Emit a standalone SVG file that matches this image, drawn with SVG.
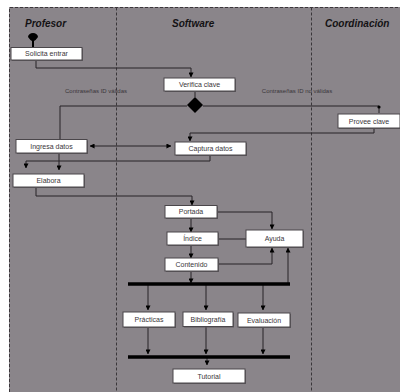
<svg xmlns="http://www.w3.org/2000/svg" width="400" height="392" viewBox="0 0 400 392">
  <style>
    .lane { fill: none; stroke: #3a363a; stroke-width: 1; stroke-dasharray: 3 2; }
    .hdr { font-family: "Liberation Sans", Arial, sans-serif; font-size: 10px; font-weight: bold; font-style: italic; fill: #141214; }
    .box rect { fill: #ffffff; stroke: #4a464a; stroke-width: 1; }
    .box .sh { fill: #5e5a5e; stroke: none; }
    .box text { font-family: "Liberation Sans", Arial, sans-serif; font-size: 7px; fill: #3a363a; text-anchor: middle; }
    .lbl { font-family: "Liberation Sans", Arial, sans-serif; font-size: 6px; fill: #3a363a; text-anchor: middle; }
    .conn path { fill: none; stroke: #262226; stroke-width: 1; }
    .bar { stroke: #000; stroke-width: 3.5; }
  </style>
  <defs>
    <marker id="arr" viewBox="0 0 6 6" refX="5.5" refY="3" markerWidth="5" markerHeight="5" orient="auto-start-reverse" markerUnits="userSpaceOnUse">
      <path d="M0,0 L6,3 L0,6 Z" fill="#000"/>
    </marker>
  </defs>

  <!-- page -->
  <rect x="0" y="0" width="400" height="392" fill="#ffffff"/>
  <rect x="9" y="7" width="391" height="385" fill="#8a858a"/>

  <!-- swimlane borders -->
  <path class="lane" d="M9.5,392 V7.5 H400"/>
  <path class="lane" d="M116.5,7.5 V392"/>
  <path class="lane" d="M311.5,7.5 V392"/>

  <!-- lane headers -->
  <text class="hdr" x="25" y="27">Profesor</text>
  <text class="hdr" x="172" y="27">Software</text>
  <text class="hdr" x="325" y="27">Coordinación</text>

  <!-- connectors -->
  <g class="conn" id="connectors">
    <path d="M36,60 V68 H191 V77" marker-end="url(#arr)"/>
    <path d="M195,91 V97"/>
    <path d="M187,106 H60 V139"/>
    <path d="M203,106 H379 V113"/>
    <path d="M374,128 V133 H190 V141" marker-end="url(#arr)"/>
    <path d="M90,146 H171" marker-start="url(#arr)" marker-end="url(#arr)"/>
    <path d="M59,153 V170" marker-end="url(#arr)"/>
    <path d="M210,155 V161 H26 V168" marker-end="url(#arr)"/>
    <path d="M36,187 V196 H192 V205" marker-end="url(#arr)"/>
    <path d="M191,218 V232" marker-end="url(#arr)"/>
    <path d="M191,245 V258" marker-end="url(#arr)"/>
    <path d="M191,271 V283" marker-end="url(#arr)"/>
    <path d="M218,212 H272 V229" marker-end="url(#arr)"/>
    <path d="M218,239 H246"/>
    <path d="M218,264 H272 V248" marker-end="url(#arr)"/>
    <path d="M288,284 V248" marker-end="url(#arr)"/>
    <path d="M148,284 V310" marker-end="url(#arr)"/>
    <path d="M206,284 V310" marker-end="url(#arr)"/>
    <path d="M263,284 V310" marker-end="url(#arr)"/>
    <path d="M148,327 V354" marker-end="url(#arr)"/>
    <path d="M206,327 V354" marker-end="url(#arr)"/>
    <path d="M263,327 V354" marker-end="url(#arr)"/>
    <path d="M207,357 V365" marker-end="url(#arr)"/>
    <circle cx="379" cy="107" r="1.6" fill="#000"/>
    <line class="bar" x1="128" y1="284" x2="290" y2="284"/>
    <line class="bar" x1="128" y1="357" x2="290" y2="357"/>
    <text class="lbl" x="96" y="93">Contraseñas ID válidas</text>
    <text class="lbl" x="297" y="93">Contraseñas ID no válidas</text>
  </g>

  <!-- start node -->
  <g id="start">
    <path d="M28,37 A5,4 0 0 1 38,37 Q36,40 34,41 V47 H32 V41 Q30,40 28,37 Z" fill="#000"/>
  </g>

  <!-- decision -->
  <g id="decision">
    <path d="M195,97 L203,105 L195,113 L187,105 Z" fill="#000"/>
  </g>

  <g class="box" id="solicita"><rect class="sh" x="12" y="48.5" width="71" height="12.5"/><rect x="11" y="47.5" width="71" height="12.5"/><text x="46.5" y="56.3">Solicita entrar</text></g>
  <g class="box" id="verifica"><rect class="sh" x="165" y="79" width="71" height="13"/><rect x="164" y="78" width="71" height="13"/><text x="199.5" y="87.3">Verifica clave</text></g>
  <g class="box" id="provee"><rect class="sh" x="339" y="115" width="62" height="14"/><rect x="338" y="114" width="62" height="14"/><text x="369" y="123.8">Provee clave</text></g>
  <g class="box" id="ingresa"><rect class="sh" x="17" y="140.5" width="71" height="13.5"/><rect x="16" y="139.5" width="71" height="13.5"/><text x="51.5" y="148.8">Ingresa datos</text></g>
  <g class="box" id="captura"><rect class="sh" x="176" y="143" width="71" height="13"/><rect x="175" y="142" width="71" height="13"/><text x="210.5" y="151.3">Captura datos</text></g>
  <g class="box" id="elabora"><rect class="sh" x="14" y="175" width="71" height="13"/><rect x="13" y="174" width="71" height="13"/><text x="48.5" y="183.3">Elabora</text></g>
  <g class="box" id="portada"><rect class="sh" x="166" y="206.5" width="52" height="12.5"/><rect x="165" y="205.5" width="52" height="12.5"/><text x="191" y="214.3">Portada</text></g>
  <g class="box" id="indice"><rect class="sh" x="168" y="233" width="51" height="13"/><rect x="167" y="232" width="51" height="13"/><text x="192.5" y="241.3">Índice</text></g>
  <g class="box" id="contenido"><rect class="sh" x="166" y="259" width="53" height="13"/><rect x="165" y="258" width="53" height="13"/><text x="191.5" y="267.3">Contenido</text></g>
  <g class="box" id="ayuda"><rect class="sh" x="247" y="231" width="57" height="17"/><rect x="246" y="230" width="57" height="17"/><text x="274.5" y="241">Ayuda</text></g>
  <g class="box" id="practicas"><rect class="sh" x="124" y="313" width="52" height="15"/><rect x="123" y="312" width="52" height="15"/><text x="149" y="322">Prácticas</text></g>
  <g class="box" id="bibliografia"><rect class="sh" x="184" y="313" width="50" height="14.5"/><rect x="183" y="312" width="50" height="14.5"/><text x="208" y="322">Bibliografía</text></g>
  <g class="box" id="evaluacion"><rect class="sh" x="239" y="314" width="52" height="14"/><rect x="238" y="313" width="52" height="14"/><text x="264" y="322.5">Evaluación</text></g>
  <g class="box" id="tutorial"><rect class="sh" x="174" y="370" width="72" height="14"/><rect x="173" y="369" width="72" height="14"/><text x="209" y="378.8">Tutorial</text></g>
</svg>
